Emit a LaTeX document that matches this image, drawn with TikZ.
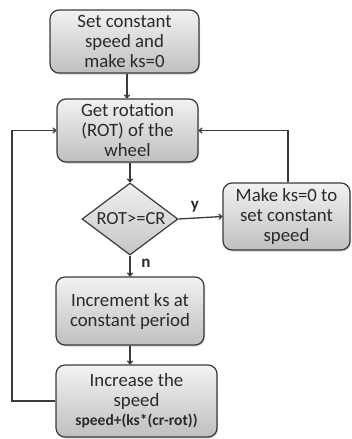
\documentclass[tikz,border=0pt]{standalone}
\usepackage{fontspec}
\setmainfont{Carlito}
\usetikzlibrary{shapes.geometric,arrows.meta,shadows}
\definecolor{edge}{HTML}{3A3A3A}
\definecolor{ink}{HTML}{2A2A2A}
\tikzset{
  stepbox/.style={draw=edge, line width=1.2pt, rounded corners=9pt,
    top color=gray!10, bottom color=gray!50, align=center, text=ink,
    inner sep=0pt, font=\fontsize{18.8}{20}\selectfont,
    drop shadow={shadow xshift=1pt, shadow yshift=-1.5pt, opacity=0.35}},
  decide/.style={shape=diamond, draw=edge, line width=1.2pt,
    top color=gray!12, bottom color=gray!45, inner sep=0pt,
    minimum width=96pt, minimum height=72pt},
  flow/.style={draw=edge, line width=1.3pt, -{To[length=4pt,width=6pt]}},
  tag/.style={font=\fontsize{17}{18}\selectfont\bfseries, text=ink}
}
\begin{document}
\begin{tikzpicture}[x=1pt,y=-1pt]
\useasboundingbox (0,0) rectangle (351,439);

\node[stepbox, minimum width=149pt, minimum height=63pt] (start) at (124.5,41.5)
  {Set constant\\speed and\\make ks=0};
\node[stepbox, minimum width=141pt, minimum height=63pt] (rot) at (127.5,130.5)
  {Get rotation\\(ROT) of the\\wheel};
\node[decide] (test) at (130,219) {};
\node[font=\fontsize{18.5}{20}\selectfont, text=ink] (testtxt) at (131,219) {ROT>=CR};
\node[stepbox, minimum width=127pt, minimum height=67pt] (reset) at (286.5,216.5)
  {Make ks=0 to\\set constant\\speed};
\node[stepbox, minimum width=148pt, minimum height=68pt] (inc) at (130,311)
  {Increment ks at\\constant period};
\node[stepbox, minimum width=161pt, minimum height=72pt] (speed) at (136.5,401)
  {Increase the\\speed\\[-1pt]{\fontsize{15.5}{17}\selectfont\bfseries speed+(ks*(cr-rot))}};

\node[tag] (ylab) at (195,207) {y};
\node[tag] (nlab) at (146,263) {n};

\coordinate (leftdown) at (12,401);
\coordinate (leftup) at (12,130.5);
\coordinate (rightup) at (288,130.5);

\draw[flow] (start.south -| 127,0) -- (rot.north -| 127,0);
\draw[flow] (rot.south -| test.north) -- (test.north);
\draw[flow] (test.east) -- (reset.west);
\draw[flow] (test.south) -- (inc.north -| test.south);
\draw[flow] (inc.south -| test.south) -- (speed.north -| test.south);
\draw[flow] (speed.west) -- (leftdown) -- (leftup) -- (rot.west);
\draw[flow] (reset.north -| rightup) -- (rightup) -- (rot.east);
\end{tikzpicture}
\end{document}
